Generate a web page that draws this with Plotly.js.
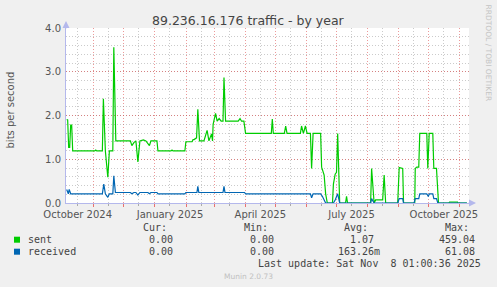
<!DOCTYPE html>
<html>
<head>
<meta charset="utf-8">
<script src="https://cdn.plot.ly/plotly-3.0.1.min.js"></script>
<style>html,body{margin:0;padding:0;background:#f0f0f0;}#chart{width:497px;height:287px;}</style>
</head>
<body>
<div id="chart"></div>
<script>
// ---- data ----
const sentDates = ["2024-10-05","2024-10-06","2024-10-07","2024-10-08","2024-10-09","2024-10-10","2024-10-11",
  "2024-11-02","2024-11-03","2024-11-04","2024-11-09 14:00","2024-11-10 14:00","2024-11-12 14:00","2024-11-15",
  "2024-11-16 14:00","2024-11-20","2024-11-21","2024-11-22 14:00","2024-11-23","2024-12-07 12:00","2024-12-09",
  "2024-12-11","2024-12-13","2024-12-15","2024-12-17","2024-12-20 12:00","2024-12-23","2024-12-26 12:00","2024-12-28",
  "2025-01-03","2025-01-04","2025-01-17","2025-01-18","2025-01-19","2025-01-30 20:00","2025-01-31 20:00","2025-02-07",
  "2025-02-08","2025-02-09","2025-02-11 12:00","2025-02-12 18:00","2025-02-14 10:00","2025-02-18 20:00","2025-02-22",
  "2025-02-23 20:00","2025-02-26 10:00","2025-02-27 10:00","2025-02-28","2025-03-02 10:00","2025-03-04","2025-03-06",
  "2025-03-08","2025-03-09 20:00","2025-03-10 20:00","2025-03-12 10:00","2025-03-25","2025-03-26 20:00","2025-03-28 08:00",
  "2025-03-30 16:00","2025-04-01 08:00","2025-04-27","2025-04-28","2025-04-29","2025-05-10","2025-05-11 08:00",
  "2025-05-12 16:00","2025-05-26","2025-05-27 04:00","2025-05-29","2025-05-31","2025-06-01 16:00","2025-06-05",
  "2025-06-06 04:00","2025-06-07 16:00","2025-06-15 04:00","2025-06-16 04:00","2025-06-18 16:00","2025-06-20 04:00",
  "2025-06-21 20:00","2025-06-27","2025-06-27 22:00","2025-06-29 16:00","2025-07-01","2025-07-02 04:00","2025-07-04 04:00",
  "2025-07-10","2025-07-11","2025-07-12","2025-08-04","2025-08-05","2025-08-07 12:00","2025-08-09","2025-08-11 18:00",
  "2025-08-16","2025-08-17 12:00","2025-08-19","2025-08-31","2025-09-01 12:00","2025-09-05","2025-09-05 20:00",
  "2025-09-17","2025-09-17 12:00","2025-09-19","2025-09-21","2025-09-22","2025-09-29","2025-09-30","2025-10-01 10:00",
  "2025-10-05","2025-10-06","2025-10-08 16:00","2025-10-10 16:00","2025-10-21","2025-10-21 16:00","2025-10-29 16:00",
  "2025-10-30","2025-11-08"];
const sentValues = [1.91,1.90,1.27,1.27,1.78,1.78,1.19,
  1.19,1.21,1.19,1.19,2.38,1.19,0.59,
  1.19,1.19,3.56,1.45,1.42,1.42,1.31,
  1.38,1.42,0.94,1.42,1.44,1.42,1.31,1.42,
  1.42,1.19,1.19,1.21,1.19,1.19,1.40,1.40,
  1.45,1.45,1.49,2.14,1.42,1.42,1.66,
  1.42,1.58,1.42,1.80,2.05,1.87,1.93,
  1.87,1.87,2.87,1.87,1.87,1.93,1.87,
  1.87,1.59,1.59,1.92,1.59,1.59,1.76,
  1.59,1.59,1.76,1.59,1.76,1.59,1.59,
  0.79,1.59,1.59,0.82,0.64,0.21,
  0,0,0.43,0.66,0.70,1.59,0,
  0,0.15,0,0,0.79,0,0.07,0.07,
  0.07,0.64,0,0,0.81,0.79,0,
  0,0.79,0.82,0.82,1.59,1.59,0.79,1.59,
  1.59,0.79,0.79,0,0,0.02,0.02,
  0,0];

const recvDates = ["2024-10-05","2024-10-06 16:00","2024-10-07 12:00","2024-10-09","2024-11-09 14:00","2024-11-11",
  "2024-11-12 14:00","2024-11-15","2024-11-16 14:00","2024-11-20","2024-11-21","2024-11-22 14:00","2024-12-07 12:00",
  "2024-12-09","2024-12-11","2024-12-13","2024-12-15","2024-12-17","2024-12-25","2024-12-26 12:00","2024-12-28",
  "2025-01-03","2025-01-04","2025-01-30 20:00","2025-01-31 20:00","2025-02-11 20:00","2025-02-12 18:00","2025-02-13 18:00",
  "2025-03-09 20:00","2025-03-10 20:00","2025-03-11 20:00","2025-03-31 08:00","2025-04-01 08:00","2025-06-05",
  "2025-06-06 04:00","2025-06-07 16:00","2025-06-15 04:00","2025-06-17","2025-06-20 04:00","2025-06-27 22:00",
  "2025-06-29 16:00","2025-07-02 04:00","2025-07-04 04:00","2025-08-04","2025-08-05","2025-08-07 12:00","2025-08-31",
  "2025-09-01 12:00","2025-09-05","2025-09-05 20:00","2025-09-16 08:00","2025-09-17 12:00","2025-09-21","2025-09-22",
  "2025-09-29","2025-09-30 12:00","2025-10-01 12:00","2025-10-05","2025-10-06","2025-10-08 16:00","2025-10-10","2025-11-08"];
const recvValues = [0.31,0.21,0.31,0.21,0.21,0.43,
  0.21,0.13,0.21,0.21,0.62,0.24,0.24,
  0.21,0.24,0.24,0.18,0.24,0.24,0.21,0.24,
  0.24,0.21,0.21,0.24,0.24,0.38,0.24,
  0.24,0.38,0.24,0.24,0.21,0.21,
  0.12,0.21,0.21,0.15,0,0,
  0.07,0.21,0,0,0.10,0,0,
  0.10,0.10,0,0,0.10,0.10,0.21,
  0.21,0.15,0.21,0.21,0.10,0.10,0,0];

// axis ticks: labels sit at mid-month (rrdtool shifts them by 15 days)
const monthMidTicks = ["2024-10-16","2024-11-16","2024-12-16","2025-01-16","2025-02-16","2025-03-16","2025-04-16",
  "2025-05-16","2025-06-16","2025-07-16","2025-08-16","2025-09-16","2025-10-16"];
const monthMidLabels = ["October 2024","","","January 2025","","","April 2025","","","July 2025","","","October 2025"];
const yTickVals = [0,1,2,3,4];
const yTickText = ["0.0","1.0","2.0","3.0","4.0"];

// legend table
const seriesNames = ["sent","received"];
const seriesColors = ["#00cc00","#0066b3"];
const curVals = ["0.00","0.00"];
const minVals = ["0.00","0.00"];
const avgVals = ["1.07","163.26m"];
const maxVals = ["459.04","61.08"];

// ---- layout helpers (pixel -> paper) ----
const L = 66, R = 469, T = 28, B = 203;
const PX = x => (x - L) / (R - L);
const PY = y => (B - y) / (B - T);

const sans = "DejaVu Sans, sans-serif";
const mono = "DejaVu Sans Mono, monospace";
const txt = "#444";

const traces = [
  {x: sentDates, y: sentValues, type: "scatter", mode: "lines", name: seriesNames[0],
   line: {color: seriesColors[0], width: 1.2}, hoverinfo: "skip"},
  {x: recvDates, y: recvValues, type: "scatter", mode: "lines", name: seriesNames[1],
   line: {color: seriesColors[1], width: 1.2}, hoverinfo: "skip"}
];

const ann = [];
function A(text, x, y, opts) {
  ann.push(Object.assign({text: text, xref: "paper", yref: "paper", x: PX(x), y: PY(y),
    showarrow: false, xanchor: "left", yanchor: "middle",
    font: {family: mono, size: 10, color: txt}}, opts || {}));
}
// title
A("89.236.16.176 traffic - by year", 248.5, 20.5, {xanchor: "center", font: {family: sans, size: 12.5, color: "#444"}});
// y label
A("bits per second", 10.5, 110, {xanchor: "center", textangle: -90, font: {family: sans, size: 10, color: "#555"}});
// watermark
A("RRDTOOL / TOBI OETIKER", 488.5, 53, {xanchor: "center", textangle: 90, font: {family: sans, size: 7.5, color: "#c4c4c4"}});
// legend header
A("Cur:", 168.5, 227.3, {xanchor: "right"});
A("Min:", 269.5, 227.3, {xanchor: "right"});
A("Avg:", 369.5, 227.3, {xanchor: "right"});
A("Max:", 470.5, 227.3, {xanchor: "right"});
const rowY = [239.7, 251.7];
const shapes = [];
for (let i = 0; i < seriesNames.length; i++) {
  A(seriesNames[i], 26, rowY[i]);
  A(curVals[i], 174.5, rowY[i], {xanchor: "right"});
  A(minVals[i], 276, rowY[i], {xanchor: "right"});
  const a = avgVals[i];
  A(a, /m$/.test(a) ? 382 : 376, rowY[i], {xanchor: "right"});
  A(maxVals[i], 477, rowY[i], {xanchor: "right"});
  shapes.push({type: "rect", xref: "paper", yref: "paper",
    x0: PX(14), x1: PX(20), y0: PY(rowY[i] + 3), y1: PY(rowY[i] - 3),
    fillcolor: seriesColors[i], line: {width: 0}});
}
A("Last update: Sat Nov  8 01:00:36 2025", 483, 263.3, {xanchor: "right"});
A("Munin 2.0.73", 248, 276, {xanchor: "center", font: {family: sans, size: 7.5, color: "#c0c0c0"}});
// axis arrows
const axisCol = "#b4b8ec";
ann.push({xref: "paper", yref: "paper", x: PX(66), y: PY(21), ax: 0, ay: 9, text: "",
  showarrow: true, arrowhead: 2, arrowsize: 1.4, arrowwidth: 1, arrowcolor: axisCol});
ann.push({xref: "paper", yref: "paper", x: PX(476), y: PY(203), ax: -9, ay: 0, text: "",
  showarrow: true, arrowhead: 2, arrowsize: 1.4, arrowwidth: 1, arrowcolor: axisCol});

const layout = {
  width: 497, height: 287,
  margin: {l: L, r: 497 - R, t: T, b: 287 - B, pad: 0},
  paper_bgcolor: "#f0f0f0", plot_bgcolor: "#ffffff",
  showlegend: false,
  xaxis: {
    type: "date", range: ["2024-10-04 08:00", "2025-11-10 02:00"],
    tickmode: "array", tickvals: monthMidTicks, ticktext: monthMidLabels,
    showgrid: true, gridcolor: "rgba(140,140,140,0.45)", griddash: "1px,2px", gridwidth: 1,
    ticks: "outside", ticklen: 2, tickcolor: "#aaaaaa",
    tickfont: {family: sans, size: 10, color: "#555"},
    showline: true, linecolor: axisCol, linewidth: 1, zeroline: false,
    minor: {tickmode: "linear", tick0: "2024-10-01", dtick: "M1", showgrid: true,
      gridcolor: "rgba(220,70,70,0.55)", griddash: "1px,2px", gridwidth: 1,
      ticks: "outside", ticklen: 3, tickcolor: "rgba(230,80,80,0.8)"},
    fixedrange: true
  },
  yaxis: {
    range: [0, 4], tickmode: "array", tickvals: yTickVals, ticktext: yTickText,
    showgrid: true, gridcolor: "rgba(220,70,70,0.55)", griddash: "1px,2px", gridwidth: 1,
    ticks: "outside", ticklen: 2, tickcolor: "rgba(0,0,0,0)",
    tickfont: {family: sans, size: 10, color: "#555"},
    showline: true, linecolor: axisCol, linewidth: 1, zeroline: false,
    minor: {tickmode: "linear", tick0: 0, dtick: 0.2, showgrid: true,
      gridcolor: "rgba(140,140,140,0.45)", griddash: "1px,2px", gridwidth: 1},
    fixedrange: true
  },
  annotations: ann,
  shapes: shapes
};

Plotly.newPlot("chart", traces, layout, {displayModeBar: false, staticPlot: true});
</script>
</body>
</html>
